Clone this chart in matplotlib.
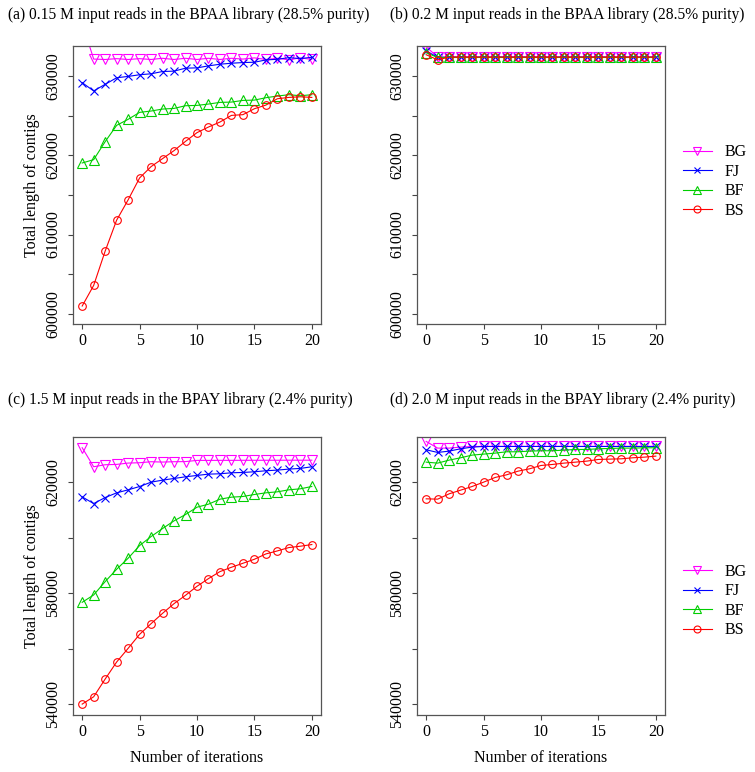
import matplotlib
matplotlib.use("Agg")
import matplotlib.pyplot as plt
from matplotlib.lines import Line2D

plt.rcParams["font.family"] = ["Liberation Serif", "DejaVu Serif"]

iterations = list(range(21))
series_names = ["BG", "FJ", "BF", "BS"]

# (a) 0.15 M reads, BPAA
a_bg = [636700, 632150, 632100, 632200, 632100, 632200, 632100, 632250, 632100, 632250, 632100,
        632250, 632100, 632250, 632150, 632300, 632100, 632250, 632050, 632300, 632100]
a_fj = [629170, 628125, 628960, 629790, 629960, 630170, 630290, 630580, 630625, 631000, 631040,
        631290, 631500, 631625, 631710, 631750, 632040, 632125, 632330, 632210, 632375]
a_bf = [619030, 619450, 621720, 623780, 624540, 625420, 625590, 625840, 625920, 626260, 626300,
        626470, 626680, 626720, 626930, 626970, 627270, 627480, 627650, 627520, 627650]
a_bs = [600970, 603570, 607900, 611810, 614370, 617140, 618570, 619580, 620590, 621760, 622860,
        623570, 624200, 625040, 625130, 625880, 626340, 627140, 627310, 627390, 627310]

# (b) 0.2 M reads, BPAA
b_bg = [633700, 632400, 632400, 632400, 632400, 632400, 632400, 632400, 632400, 632400, 632400,
        632400, 632400, 632400, 632400, 632400, 632400, 632400, 632400, 632400, 632400]
b_fj = [633200, 632350, 632400, 632400, 632400, 632400, 632400, 632400, 632400, 632400, 632400,
        632400, 632400, 632400, 632400, 632400, 632400, 632400, 632400, 632400, 632400]
b_bf = [632950, 632350, 632350, 632350, 632350, 632350, 632350, 632350, 632350, 632350, 632350,
        632350, 632350, 632350, 632350, 632350, 632350, 632350, 632350, 632350, 632350]
b_bs = [632700, 632050, 632400, 632400, 632400, 632400, 632400, 632400, 632400, 632400, 632400,
        632400, 632400, 632400, 632400, 632400, 632400, 632400, 632400, 632400, 632400]

# (c) 1.5 M reads, BPAY
c_bg = [632400, 625540, 626265, 626385, 626870, 626990, 627350, 627230, 627350, 627400, 627830,
        627830, 627850, 627850, 627870, 627870, 627880, 627880, 627900, 627900, 627900]
c_fj = [614700, 612290, 614460, 616145, 617230, 618430, 620000, 620720, 621325, 621930, 622410,
        622890, 623010, 623370, 623490, 623735, 624100, 624340, 624700, 624940, 625540]
c_bf = [576760, 579400, 584200, 588650, 592610, 597180, 600420, 603300, 606070, 608350, 610990,
        612070, 613870, 614600, 614840, 615560, 616160, 616520, 617240, 617600, 618440]
c_bs = [540120, 542760, 549130, 555260, 560180, 565220, 569070, 572790, 576280, 579280, 582520,
        585290, 587810, 589370, 590810, 592250, 594170, 595250, 596460, 596940, 597540]

# (d) 2.0 M reads, BPAY
d_bg = [634650, 632250, 632250, 632610, 632850, 632850, 632850, 632850, 632850, 632850, 632850,
        632850, 632850, 632850, 632850, 632850, 632850, 632850, 632850, 632850, 632850]
d_fj = [631650, 630690, 631170, 632010, 632610, 632850, 632850, 632850, 632850, 632850, 632850,
        632850, 632850, 632850, 632850, 632850, 632850, 632850, 632850, 632850, 632850]
d_bf = [627200, 626850, 627930, 628770, 629730, 630090, 630450, 630930, 630930, 631170, 631290,
        631290, 631530, 631770, 631770, 632010, 632130, 632250, 632250, 632370, 632370]
d_bs = [614000, 613880, 615800, 617120, 618440, 620000, 621680, 622640, 623960, 624800, 626000,
        626370, 626850, 627200, 627570, 628170, 628290, 628400, 628770, 629000, 629370]

titles = [
    "(a) 0.15 M input reads in the BPAA library (28.5% purity)",
    "(b) 0.2 M input reads in the BPAA library (28.5% purity)",
    "(c) 1.5 M input reads in the BPAY library (2.4% purity)",
    "(d) 2.0 M input reads in the BPAY library (2.4% purity)",
]

colors = {"BG": "#FF00FF", "FJ": "#0000FF", "BF": "#00CD00", "BS": "#FF0000"}
markers = {"BG": "v", "FJ": "x", "BF": "^", "BS": "o"}
msizes = {"BG": 6.5, "FJ": 5.5, "BF": 6.5, "BS": 5.5}

W, H = 755, 772
fig = plt.figure(figsize=(W / 100, H / 100), dpi=100)


def add_axes(left, top, right, bottom):
    return fig.add_axes([left / W, 1 - bottom / H, (right - left) / W, (bottom - top) / H])


def draw_panel(ax, data, ylim, yticks, ylabels, show_ylabel, show_xlabel):
    for name, vals in zip(series_names, data):
        ax.plot(iterations, vals, color=colors[name], lw=0.8, marker=markers[name],
                ms=msizes[name], mfc="none", mec=colors[name], mew=0.8)
    ax.set_xlim(-0.8, 20.8)
    ax.set_ylim(*ylim)
    ax.set_xticks([0, 5, 10, 15, 20])
    ax.set_yticks(yticks)
    ax.set_yticklabels([str(t) if t in ylabels else "" for t in yticks],
                       rotation=90, va="center")
    ax.tick_params(axis="both", direction="out", length=3.6, width=0.8,
                   color="#444444", labelsize=11.5)
    ax.tick_params(axis="y", pad=5)
    ax.tick_params(axis="x", pad=3)
    for sp in ax.spines.values():
        sp.set_color("#555555")
        sp.set_linewidth(0.9)
    if show_ylabel:
        ax.set_ylabel("Total length of contigs", fontsize=11.5, va="center")
        ax.yaxis.set_label_coords(-0.165, 0.5)
    if show_xlabel:
        ax.set_xlabel("Number of iterations", fontsize=11.5, va="center")
        ax.xaxis.set_label_coords(0.5, -43 / 278)


top_ticks = list(range(600000, 635000, 5000))
top_labels = [600000, 610000, 620000, 630000]
bot_ticks = list(range(540000, 640000, 20000))
bot_labels = [540000, 580000, 620000]

ax_a = add_axes(73, 46, 321, 324)
draw_panel(ax_a, [a_bg, a_fj, a_bf, a_bs], (598700, 633800), top_ticks, top_labels, True, False)
ax_b = add_axes(417, 46, 665, 324)
draw_panel(ax_b, [b_bg, b_fj, b_bf, b_bs], (598700, 633800), top_ticks, top_labels, False, False)
ax_c = add_axes(73, 437, 321, 715)
draw_panel(ax_c, [c_bg, c_fj, c_bf, c_bs], (536200, 636250), bot_ticks, bot_labels, True, True)
ax_d = add_axes(417, 437, 665, 715)
draw_panel(ax_d, [d_bg, d_fj, d_bf, d_bs], (536200, 636250), bot_ticks, bot_labels, False, True)

# panel titles, left aligned in each half
fig.text(8 / W, 1 - 15 / H, titles[0], ha="left", va="center", fontsize=11.2)
fig.text(390 / W, 1 - 15 / H, titles[1], ha="left", va="center", fontsize=11.2)
fig.text(8 / W, 1 - 400 / H, titles[2], ha="left", va="center", fontsize=11.2)
fig.text(390 / W, 1 - 400 / H, titles[3], ha="left", va="center", fontsize=11.2)

handles = [Line2D([], [], color=colors[n], lw=0.8, marker=markers[n], ms=msizes[n] - 0.5,
                  mfc="none", mec=colors[n], mew=0.8) for n in series_names]
for yc in (181.5, 601):
    fig.legend(handles, series_names, loc="center left", bbox_to_anchor=(683 / W, 1 - yc / H),
               frameon=False, fontsize=11.5, handlelength=1.8, handletextpad=0.8,
               labelspacing=0.22, borderpad=0, borderaxespad=0)

fig.savefig("out.png", dpi=100)
